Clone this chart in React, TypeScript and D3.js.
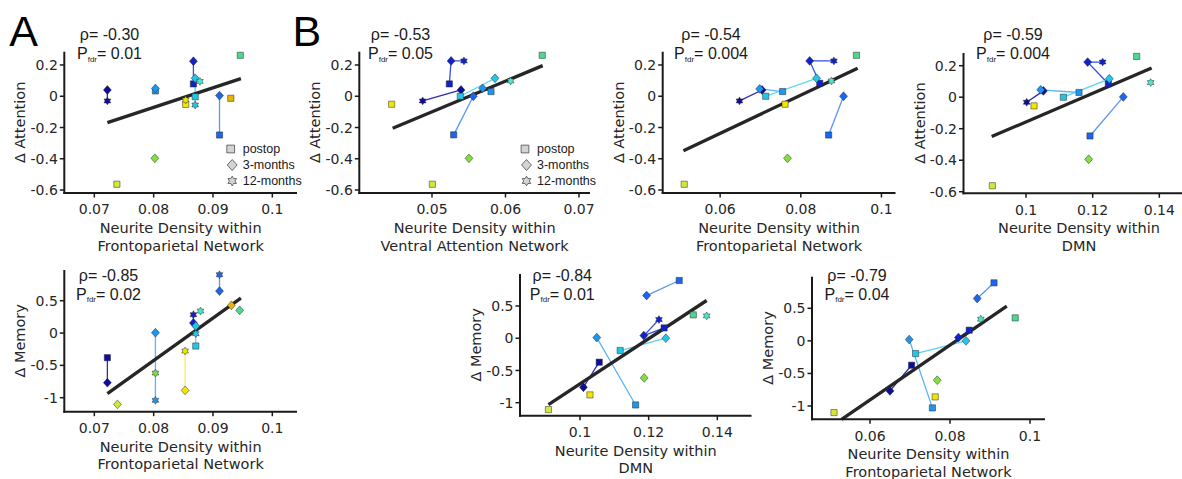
import React from "react";
import * as d3 from "d3";

// ---------- data ----------
// subjects (colour groups)
const SUBJECTS = ["N1", "N2", "B2", "B1", "C", "T", "GS", "G", "YG", "Y", "O"];
const SUBJECT_FILL = ["#0c0c9e", "#0f22cc", "#1a66ee", "#1e96ee", "#22c6e6", "#50e4cc", "#4cd890", "#80e040", "#d2e63c", "#f2e600", "#e8b400"];
const SUBJECT_LINE = ["#2a2ab8", "#3450e2", "#5a96f4", "#5ab4f6", "#5ad4f0", "#70e8d8", "#70e0a8", "#a0e870", "#e0ec70", "#f4ee60", "#f0c850"];
const TIMEPOINTS = ["postop", "3-months", "12-months"];

// [subject, timepoint (0 postop, 1 3-months, 2 12-months), neurite density, delta score]
type Obs = [string, number, number, number];

const attFpnA: Obs[] = [
  ["N1", 1, 0.0722, 0.04], ["N1", 2, 0.0722, -0.03],
  ["B1", 0, 0.0803, 0.034], ["B1", 1, 0.0803, 0.05],
  ["G", 1, 0.0802, -0.397],
  ["YG", 0, 0.0738, -0.563],
  ["Y", 0, 0.0854, -0.052], ["Y", 2, 0.0854, -0.024],
  ["N2", 0, 0.0867, 0.079], ["N2", 1, 0.0867, 0.224],
  ["C", 0, 0.087, -0.003], ["C", 1, 0.087, 0.115], ["C", 2, 0.087, -0.056],
  ["T", 2, 0.0878, 0.095],
  ["B2", 0, 0.0911, -0.248], ["B2", 1, 0.0911, 0.004],
  ["O", 0, 0.093, -0.013],
  ["GS", 0, 0.0946, 0.262],
];
const attVan: Obs[] = [
  ["N2", 0, 0.05236, 0.079], ["N2", 1, 0.0526, 0.226], ["N2", 2, 0.05435, 0.226],
  ["N1", 1, 0.05395, 0.04], ["N1", 2, 0.04873, -0.03],
  ["C", 0, 0.05385, 0.0], ["C", 1, 0.05857, 0.115],
  ["B1", 0, 0.05803, 0.03], ["B1", 1, 0.05689, 0.051],
  ["B2", 0, 0.05295, -0.247], ["B2", 1, 0.05562, 0.0],
  ["T", 2, 0.0607, 0.098],
  ["GS", 0, 0.065, 0.262],
  ["Y", 0, 0.04451, -0.051],
  ["G", 1, 0.05503, -0.397],
  ["YG", 0, 0.05005, -0.563],
];
const attFpnB: Obs[] = [
  ["N2", 0, 0.0847, 0.083], ["N2", 1, 0.0822, 0.226], ["N2", 2, 0.0882, 0.226],
  ["N1", 1, 0.0704, 0.04], ["N1", 2, 0.0648, -0.03],
  ["B1", 0, 0.0755, 0.03], ["B1", 1, 0.0698, 0.047],
  ["C", 0, 0.0713, 0.0], ["C", 1, 0.0839, 0.115],
  ["B2", 0, 0.0869, -0.248], ["B2", 1, 0.0906, 0.0],
  ["T", 2, 0.0876, 0.098],
  ["GS", 0, 0.0938, 0.262],
  ["Y", 0, 0.0761, -0.051],
  ["G", 1, 0.0767, -0.397],
  ["YG", 0, 0.0511, -0.563],
];
const attDmn: Obs[] = [
  ["N2", 0, 0.1247, 0.085], ["N2", 1, 0.1185, 0.223], ["N2", 2, 0.123, 0.223],
  ["N1", 1, 0.1052, 0.04], ["N1", 2, 0.1002, -0.032],
  ["B1", 0, 0.1159, 0.03], ["B1", 1, 0.1044, 0.047],
  ["C", 0, 0.1112, 0.0], ["C", 1, 0.125, 0.117],
  ["B2", 0, 0.1192, -0.246], ["B2", 1, 0.1292, 0.002],
  ["T", 2, 0.1374, 0.093],
  ["GS", 0, 0.1332, 0.259],
  ["Y", 0, 0.1024, -0.055],
  ["G", 1, 0.1188, -0.394],
  ["YG", 0, 0.0899, -0.562],
];
const memFpnA: Obs[] = [
  ["N1", 0, 0.0722, -0.381], ["N1", 1, 0.0722, -0.768],
  ["YG", 1, 0.0739, -1.103],
  ["B1", 1, 0.0803, 0.005], ["B1", 2, 0.0803, -1.041],
  ["G", 2, 0.0803, -0.619],
  ["Y", 1, 0.0853, -0.887], ["Y", 2, 0.0853, -0.278],
  ["N2", 1, 0.0867, 0.155], ["N2", 2, 0.0867, 0.284],
  ["C", 0, 0.0871, -0.201], ["C", 1, 0.0871, 0.108], ["C", 2, 0.0871, -0.01],
  ["T", 2, 0.0879, 0.34],
  ["B2", 1, 0.0911, 0.649], ["B2", 2, 0.0911, 0.902],
  ["O", 1, 0.0931, 0.428],
  ["GS", 1, 0.0945, 0.351],
];
const memDmn: Obs[] = [
  ["B2", 0, 0.1289, 0.895], ["B2", 1, 0.1194, 0.662],
  ["N2", 0, 0.1245, 0.16], ["N2", 1, 0.1186, 0.041], ["N2", 2, 0.123, 0.29],
  ["C", 0, 0.1117, -0.191], ["C", 1, 0.125, 0.0],
  ["B1", 0, 0.1162, -1.035], ["B1", 1, 0.1049, 0.01],
  ["N1", 0, 0.1056, -0.372], ["N1", 1, 0.101, -0.76],
  ["GS", 0, 0.133, 0.362],
  ["T", 2, 0.1369, 0.347],
  ["G", 1, 0.1187, -0.616],
  ["Y", 0, 0.1029, -0.879],
  ["YG", 0, 0.0908, -1.107],
];
const memFpnB: Obs[] = [
  ["B2", 0, 0.091, 0.891], ["B2", 1, 0.0868, 0.65],
  ["T", 2, 0.0877, 0.333],
  ["GS", 0, 0.0963, 0.353],
  ["N2", 0, 0.0848, 0.164], ["N2", 1, 0.0821, 0.051],
  ["C", 0, 0.0714, -0.195], ["C", 1, 0.084, 0.0],
  ["B1", 0, 0.0756, -1.029], ["B1", 1, 0.0698, 0.02],
  ["N1", 0, 0.0704, -0.374], ["N1", 1, 0.065, -0.768],
  ["G", 1, 0.0768, -0.604],
  ["Y", 0, 0.0763, -0.86],
  ["YG", 0, 0.051, -1.101],
];

// regression fit end points [x1, y1, x2, y2]
const fitAttFpnA = [0.0722, -0.169, 0.0947, 0.113];
const fitAttVan = [0.04465, -0.205, 0.06506, 0.196];
const fitAttFpnB = [0.0509, -0.348, 0.0941, 0.179];
const fitAttDmn = [0.0897, -0.25, 0.1377, 0.185];
const fitMemFpnA = [0.0722, -0.938, 0.0947, 0.541];
const fitMemDmn = [0.0908, -1.029, 0.1369, 0.585];
const fitMemFpnB = [0.0529, -1.204, 0.0942, 0.532];

// ticks
const attYTicks = [0.2, 0, -0.2, -0.4, -0.6];
const memYTicks = [0.5, 0, -0.5, -1];
const fpnATicks = [0.07, 0.08, 0.09, 0.1];
const vanTicks = [0.05, 0.06, 0.07];
const fpnBTicks = [0.06, 0.08, 0.1];
const dmnTicks = [0.1, 0.12, 0.14];

// statistics
const rhoValues = ["-0.30", "-0.53", "-0.54", "-0.59", "-0.85", "-0.84", "-0.79"];
const pfdrValues = ["0.01", "0.05", "0.004", "0.004", "0.02", "0.01", "0.04"];

// ---------- layout ----------
type PanelCfg = {
  obs: Obs[]; fit: number[]; xTicks: number[]; yTicks: number[];
  xDomain: [number, number]; yDomain: [number, number];
  left: number; right: number; top: number; bottom: number;
  stat: number; yLabel: string; xLabel: string[];
  statX: number; statY: number; legend?: [number, number];
};

const TICK_FONT = "'DejaVu Sans', sans-serif";
const ARIAL = "'Liberation Sans', Arial, sans-serif";
const INK = "#1a1a1a";

const panels: PanelCfg[] = [
  { obs: attFpnA, fit: fitAttFpnA, xTicks: fpnATicks, yTicks: attYTicks, xDomain: [0.06494, 0.10416], yDomain: [-0.619, 0.285],
    left: 64.3, right: 297, top: 51.7, bottom: 193, stat: 0, yLabel: "Δ Attention", xLabel: ["Neurite Density within", "Frontoparietal Network"],
    statX: 109.5, statY: 40, legend: [230.7, 149] },
  { obs: attVan, fit: fitAttVan, xTicks: vanTicks, yTicks: attYTicks, xDomain: [0.04011, 0.0715], yDomain: [-0.619, 0.285],
    left: 359.3, right: 590, top: 51.7, bottom: 193, stat: 1, yLabel: "Δ Attention", xLabel: ["Neurite Density within", "Ventral Attention Network"],
    statX: 400.5, statY: 40, legend: [525, 149] },
  { obs: attFpnB, fit: fitAttFpnB, xTicks: fpnBTicks, yTicks: attYTicks, xDomain: [0.04576, 0.10348], yDomain: [-0.619, 0.285],
    left: 662.7, right: 895.5, top: 51.7, bottom: 193, stat: 2, yLabel: "Δ Attention", xLabel: ["Neurite Density within", "Frontoparietal Network"],
    statX: 711, statY: 40 },
  { obs: attDmn, fit: fitAttDmn, xTicks: dmnTicks, yTicks: attYTicks, xDomain: [0.08124, 0.15056], yDomain: [-0.61, 0.2806],
    left: 963.5, right: 1194.5, top: 53, bottom: 193.3, stat: 3, yLabel: "Δ Attention", xLabel: ["Neurite Density within", "DMN"],
    statX: 1013, statY: 40 },
  { obs: memFpnA, fit: fitMemFpnA, xTicks: fpnATicks, yTicks: memYTicks, xDomain: [0.06494, 0.10416], yDomain: [-1.2165, 0.975],
    left: 64.3, right: 297, top: 270, bottom: 411.7, stat: 4, yLabel: "Δ Memory", xLabel: ["Neurite Density within", "Frontoparietal Network"],
    statX: 108.5, statY: 280.5 },
  { obs: memDmn, fit: fitMemDmn, xTicks: dmnTicks, yTicks: memYTicks, xDomain: [0.08252, 0.14996], yDomain: [-1.2016, 0.996],
    left: 520, right: 751.5, top: 274, bottom: 415.7, stat: 5, yLabel: "Δ Memory", xLabel: ["Neurite Density within", "DMN"],
    statX: 562.3, statY: 280.5 },
  { obs: memFpnB, fit: fitMemFpnB, xTicks: fpnBTicks, yTicks: memYTicks, xDomain: [0.0455, 0.10375], yDomain: [-1.204, 0.985],
    left: 812, right: 1045, top: 276.7, bottom: 419.3, stat: 6, yLabel: "Δ Memory", xLabel: ["Neurite Density within", "Frontoparietal Network"],
    statX: 857, statY: 280.5 },
];

// ---------- marker shapes ----------
function markerPath(shape: number, cx: number, cy: number, k = 1): string {
  const p = d3.path();
  if (shape === 0) {
    const h = 3.1 * k;
    p.rect(cx - h, cy - h, 2 * h, 2 * h);
  } else if (shape === 1) {
    const h = 4.4 * k;
    p.moveTo(cx, cy - h); p.lineTo(cx + h * 0.9, cy); p.lineTo(cx, cy + h); p.lineTo(cx - h * 0.9, cy); p.closePath();
  } else {
    const r = 3.9 * k;
    for (let i = 0; i < 12; i++) {
      const a = -Math.PI / 2 + (i * Math.PI) / 6;
      const rr = i % 2 === 0 ? r : r * 0.58;
      const px = cx + rr * Math.cos(a), py = cy + rr * Math.sin(a);
      if (i === 0) p.moveTo(px, py); else p.lineTo(px, py);
    }
    p.closePath();
  }
  return p.toString();
}

function Panel({ p }: { p: PanelCfg }) {
  const x = d3.scaleLinear().domain(p.xDomain).range([p.left, p.right]);
  const y = d3.scaleLinear().domain(p.yDomain).range([p.bottom, p.top]);
  const line = d3.line<Obs>().x((d) => x(d[2])).y((d) => y(d[3]));
  const groups = d3.groups(p.obs, (d) => d[0]);
  const ci = (s: string) => SUBJECTS.indexOf(s);
  const cx = (p.left + p.right) / 2;
  const cy = (p.top + p.bottom) / 2;
  return (
    <g>
      {groups.map(([s, arr]) => {
        const sorted = arr.slice().sort((a, b) => a[1] - b[1]);
        if (sorted.length < 2) return null;
        return <path key={s} d={line(sorted) || ""} fill="none" stroke={SUBJECT_LINE[ci(s)]} strokeWidth={1.3} />;
      })}
      <line x1={x(p.fit[0])} y1={y(p.fit[1])} x2={x(p.fit[2])} y2={y(p.fit[3])} stroke="#262626" strokeWidth={3.3} />
      {p.obs.map((d, i) => (
        <path key={i} d={markerPath(d[1], x(d[2]), y(d[3]))} fill={SUBJECT_FILL[ci(d[0])]} stroke="#2a2a2a" strokeWidth={0.5} />
      ))}
      {/* axes */}
      <line x1={p.left} y1={p.top} x2={p.left} y2={p.bottom + 1} stroke={INK} strokeWidth={2} />
      <line x1={p.left - 1} y1={p.bottom} x2={p.right} y2={p.bottom} stroke={INK} strokeWidth={2} />
      {p.yTicks.map((t) => (
        <g key={"y" + t}>
          <line x1={p.left - 4.5} x2={p.left} y1={y(t)} y2={y(t)} stroke={INK} strokeWidth={1.5} />
          <text x={p.left - 6.5} y={y(t)} dy="0.36em" textAnchor="end" fontFamily={TICK_FONT} fontSize={14} fill="#262626">{String(t)}</text>
        </g>
      ))}
      {p.xTicks.map((t) => (
        <g key={"x" + t}>
          <line x1={x(t)} x2={x(t)} y1={p.bottom} y2={p.bottom + 4.5} stroke={INK} strokeWidth={1.5} />
          <text x={x(t)} y={p.bottom + 21.3} textAnchor="middle" fontFamily={TICK_FONT} fontSize={14} fill="#262626">{String(t)}</text>
        </g>
      ))}
      <text transform={`translate(${p.left - 39},${cy}) rotate(-90)`} textAnchor="middle" fontFamily={TICK_FONT} fontSize={14.5} fill="#262626">{p.yLabel}</text>
      {p.xLabel.map((s, i) => (
        <text key={s} x={cx} y={p.bottom + 39.8 + i * 17.8} textAnchor="middle" fontFamily={TICK_FONT} fontSize={14.5} fill="#262626">{s}</text>
      ))}
      <text x={p.statX} y={p.statY} textAnchor="middle" fontFamily={ARIAL} fontSize={16} fill={INK}>{"ρ= " + rhoValues[p.stat]}</text>
      <text x={p.statX} y={p.statY + 19.3} textAnchor="middle" fontFamily={ARIAL} fontSize={16} fill={INK}>
        P<tspan fontSize={8} dy={2.5}>fdr</tspan><tspan dy={-2.5}>{"= " + pfdrValues[p.stat]}</tspan>
      </text>
      {p.legend &&
        TIMEPOINTS.map((tp, i) => (
          <g key={tp}>
            <path d={markerPath(i, p.legend![0] + (i ? 1.5 : 0), p.legend![1] + i * 16, 1.25)} fill="#d4d4d4" stroke="#4a4a4a" strokeWidth={0.8} />
            <text x={p.legend![0] + 12} y={p.legend![1] + i * 16 + 4.3} fontFamily={ARIAL} fontSize={12.5} fill={INK}>{tp}</text>
          </g>
        ))}
    </g>
  );
}

export default function App() {
  return (
    <svg width={1182} height={479} style={{ position: "absolute", left: 0, top: 0, background: "#fff" }}>
      <rect x={0} y={0} width={1182} height={479} fill="#fff" />
      {panels.map((p, i) => (
        <Panel key={i} p={p} />
      ))}
      <text x={9.3} y={46} fontFamily={ARIAL} fontSize={43} fill="#000">A</text>
      <text x={292.4} y={46} fontFamily={ARIAL} fontSize={43} fill="#000">B</text>
    </svg>
  );
}
